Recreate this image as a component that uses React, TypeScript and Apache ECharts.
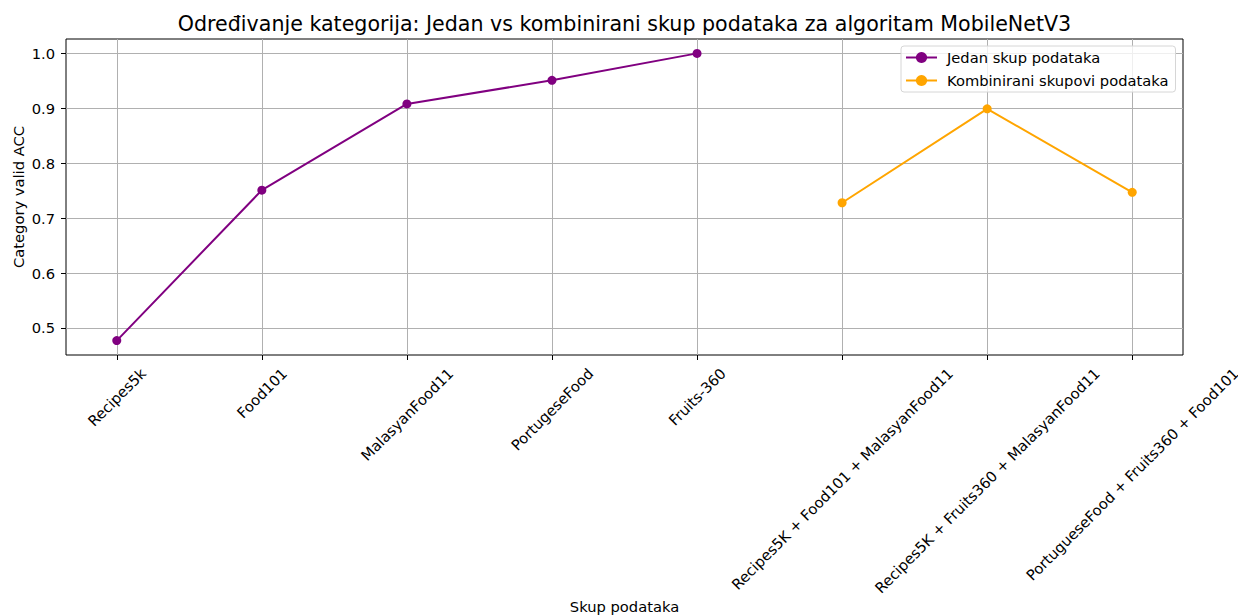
import React, { useEffect, useRef } from 'react';
import * as echarts from 'echarts';

const categories = [
  'Recipes5k',
  'Food101',
  'MalasyanFood11',
  'PortugeseFood',
  'Fruits-360',
  'Recipes5K + Food101 + MalasyanFood11',
  'Recipes5K + Fruits360 + MalasyanFood11',
  'PortugueseFood + Fruits360 + Food101',
];
const singleIdx = [0, 1, 2, 3, 4];
const singleValues = [0.477, 0.751, 0.908, 0.951, 1.0];
const combinedIdx = [5, 6, 7];
const combinedValues = [0.728, 0.899, 0.747];
const yTicks = [0.5, 0.6, 0.7, 0.8, 0.9, 1.0];
const xTicks = [0, 1, 2, 3, 4, 5, 6, 7];
const seriesNames = ['Jedan skup podataka', 'Kombinirani skupovi podataka'];
const titleText = 'Određivanje kategorija: Jedan vs kombinirani skup podataka za algoritam MobileNetV3';
const xName = 'Skup podataka';
const yName = 'Category valid ACC';

const FONT = 'DejaVu Sans';
const FS = 14.7;
const TITLE_FS = 20.6;

export default function App() {
  const ref = useRef<HTMLDivElement>(null);
  useEffect(() => {
    if (!ref.current) return;
    const chart = echarts.init(ref.current, undefined, { renderer: 'svg' });
    const xMin = -0.35, xMax = 7.35;
    const yMin = 0.4508, yMax = 1.0262;
    chart.setOption({
      animation: false,
      backgroundColor: '#fff',
      grid: { left: 66, top: 39, width: 1117, height: 316, show: true, borderColor: '#000', borderWidth: 1, backgroundColor: 'transparent' },
      xAxis: {
        type: 'value', min: xMin, max: xMax, minInterval: 1, maxInterval: 1,
        axisLine: { show: false, onZero: false },
        axisTick: { show: true, length: 5, lineStyle: { color: '#000', width: 1 }, customValues: xTicks },
        axisLabel: { show: false },
        splitLine: { show: true, lineStyle: { color: '#b0b0b0', width: 1 } },
      },
      yAxis: {
        type: 'value', min: yMin, max: yMax, minInterval: 0.1, maxInterval: 0.1,
        axisLine: { show: false, onZero: false },
        axisTick: { show: true, length: 5, lineStyle: { color: '#000', width: 1 }, customValues: yTicks },
        axisLabel: {
          show: true, margin: 11, color: '#000', fontFamily: FONT, fontSize: FS,
          customValues: yTicks,
          formatter: (v: number) => {
            const r = Math.round(v * 10) / 10;
            return Math.abs(r - v) < 1e-6 && r >= 0.5 && r <= 1.0 ? r.toFixed(1) : '';
          },
        },
        splitLine: { show: true, lineStyle: { color: '#b0b0b0', width: 1 } },
      },
      legend: {
        orient: 'vertical', left: 901, top: 46,
        itemWidth: 31, itemHeight: 14, itemGap: 8,
        padding: [4, 7, 4, 4],
        backgroundColor: 'rgba(255,255,255,0.8)', borderColor: '#d6d6d6', borderWidth: 1, borderRadius: 3,
        textStyle: { fontFamily: FONT, fontSize: FS, color: '#000', padding: [0, 0, 0, 5] },
        data: seriesNames,
      },
      series: [
        {
          type: 'line', name: seriesNames[0],
          data: singleIdx.map((x, i) => [x, singleValues[i]]),
          color: '#800080', symbol: 'circle', symbolSize: 9, showSymbol: true,
          lineStyle: { width: 2 },
        },
        {
          type: 'line', name: seriesNames[1],
          data: combinedIdx.map((x, i) => [x, combinedValues[i]]),
          color: '#FFA500', symbol: 'circle', symbolSize: 9, showSymbol: true,
          lineStyle: { width: 2 },
        },
      ],
    });

    const canvas = document.createElement('canvas');
    const ctx = canvas.getContext('2d')!;
    ctx.font = `${FS}px "${FONT}"`;
    const bottom = chart.convertToPixel({ yAxisIndex: 0 }, yMin) as number;
    const top = chart.convertToPixel({ yAxisIndex: 0 }, yMax) as number;
    const left = chart.convertToPixel({ xAxisIndex: 0 }, xMin) as number;
    const right = chart.convertToPixel({ xAxisIndex: 0 }, xMax) as number;
    const h = 16;
    const labels = categories.map((c, i) => {
      const px = chart.convertToPixel({ xAxisIndex: 0 }, i) as number;
      const w = ctx.measureText(c).width;
      const d = (w + h) * Math.SQRT1_2;
      return {
        type: 'text', x: px, y: bottom + 10 + d / 2, rotation: Math.PI / 4,
        style: { text: c, font: `${FS}px "${FONT}"`, fill: '#000', align: 'center', verticalAlign: 'middle' },
      };
    });
    chart.setOption({
      graphic: [
        ...labels,
        {
          type: 'text', x: (left + right) / 2, y: 24,
          style: { text: titleText, font: `${TITLE_FS}px "${FONT}"`, fill: '#000', align: 'center', verticalAlign: 'middle' },
        },
        {
          type: 'text', x: (left + right) / 2, y: 606,
          style: { text: xName, font: `${FS}px "${FONT}"`, fill: '#000', align: 'center', verticalAlign: 'middle' },
        },
        {
          type: 'text', x: 18, y: (top + bottom) / 2, rotation: Math.PI / 2,
          style: { text: yName, font: `${FS}px "${FONT}"`, fill: '#000', align: 'center', verticalAlign: 'middle' },
        },
      ],
    });
    return () => chart.dispose();
  }, []);
  return <div ref={ref} style={{ position: 'absolute', left: 0, top: 0, width: 1238, height: 615 }} />;
}
